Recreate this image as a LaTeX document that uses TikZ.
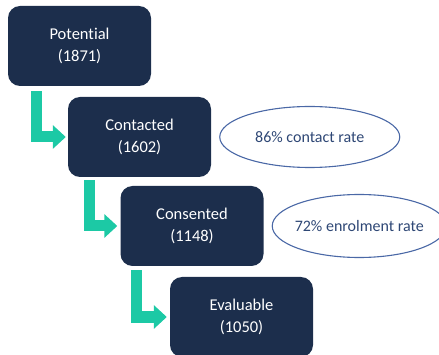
\documentclass[tikz,border=0pt]{standalone}
\usepackage{fontspec}
\setmainfont{Carlito}[Ligatures=NoCommon]
\usetikzlibrary{arrows.meta,positioning,shapes.geometric}
\definecolor{boxnavy}{HTML}{1C2E4C}
\definecolor{flowgreen}{HTML}{1CC9A5}
\definecolor{rateblue}{HTML}{4A68A6}
\definecolor{ratetext}{HTML}{2E4775}

\begin{document}
\begin{tikzpicture}[x=1pt, y=-1pt,
		stage/.style={rectangle, rounded corners=12pt, fill=boxnavy, text=white, minimum width=143pt, minimum height=80pt, align=center, font=\fontsize{16.5}{21.5}\selectfont},
		rate/.style={ellipse, draw=rateblue, line width=1.1pt, text=ratetext, inner xsep=-15pt, inner ysep=0pt, minimum width=180pt, minimum height=61pt, font=\fontsize{16}{21}\selectfont},
		flow/.style={draw=flowgreen, line width=11pt, -{Triangle[length=13pt, width=23pt]}}]
		\useasboundingbox (0, 0) rectangle (439, 355);
		\clip (0, 0) rectangle (439, 355);
		\node [stage] (pot) at (79.5, 46) {Potential\\(1871)};
		\node [stage] (cont) at (139.5, 137) {Contacted\\(1602)};
		\node [stage] (cons) at (192, 226) {Consented\\(1148)};
		\node [stage] (eval) at (241.5, 317) {Evaluable\\(1050)};
		\node [rate, right=8pt of cont] (crate) {86\% contact rate};
		\node [rate, right=8pt of cons, minimum width=174pt, minimum height=63pt] (erate) {72\% enrolment rate};
		\draw [flow] ([xshift=29pt, yshift=-5pt] pot.south west) |- ([xshift=-2pt] cont.west);
		\draw [flow] ([xshift=22pt, yshift=-3pt] cont.south west) |- ([xshift=-3pt] cons.west);
		\draw [flow] ([xshift=16pt, yshift=-4pt] cons.south west) |- ([xshift=-3pt] eval.west);
	\end{tikzpicture}
\end{document}
